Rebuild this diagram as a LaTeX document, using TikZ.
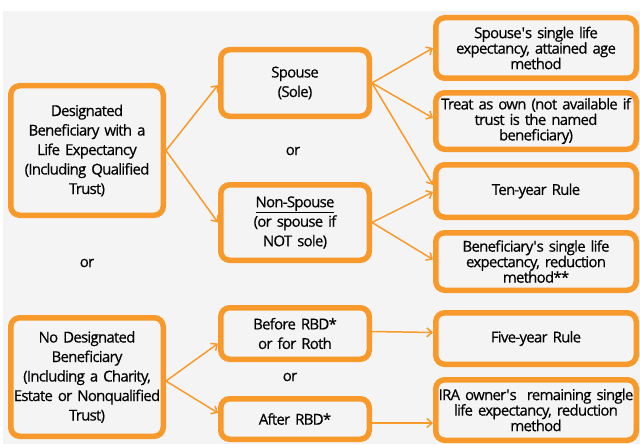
\documentclass[tikz,border=0pt]{standalone}
\usepackage{fontspec}
\setmainfont{Open Sans}[LetterSpace=-5, FakeBold=0.4]
\usetikzlibrary{arrows.meta}
\definecolor{orng}{HTML}{F89A2B}
\definecolor{bgg}{HTML}{F4F4F4}
\definecolor{txt}{HTML}{000000}
\tikzset{
  box/.style={draw=orng, line width=5.5pt, rounded corners=9pt, fill=bgg, inner sep=0pt, align=center, text=txt},
  big/.style={font=\fontsize{15}{19.5}\selectfont},
  small/.style={font=\fontsize{15}{15.5}\selectfont},
  conn/.style={draw=orng, line width=1.5pt, -{Straight Barb[length=5pt,width=9pt,line width=1.5pt]}},
  ortext/.style={font=\fontsize{15}{16}\selectfont, text=txt}
}
\begin{document}
\begin{tikzpicture}[x=1pt,y=-1pt]
\useasboundingbox (0,0) rectangle (640,444);
\fill[white] (0,0) rectangle (640,444);
\fill[bgg] (3,11) rectangle (640,444);
% left column
\node[box,big,minimum width=152.5pt,minimum height=129.5pt,text width=150pt] (L1) at (87,150.5) {Designated\\Beneficiary with a\\Life Expectancy\\(Including Qualified\\Trust)};
\node[box,big,minimum width=152.5pt,minimum height=118.5pt,text width=150pt] (L2) at (87,377) {No Designated\\Beneficiary\\(Including a Charity,\\Estate or Nonqualified\\Trust)};
% middle column
\node[box,big,minimum width=148.5pt,minimum height=66.5pt,text width=140pt] (M1) at (295,83) {Spouse\\(Sole)};
\node[box,big,minimum width=148.5pt,minimum height=75.5pt,text width=140pt] (M2) at (295,222.5) {\underline{Non-Spouse}\\(or spouse if\\NOT sole)};
\node[box,big,minimum width=148.5pt,minimum height=51.5pt,text width=140pt] (M3) at (295,333.5) {Before RBD*\\or for Roth};
\node[box,big,minimum width=148.5pt,minimum height=40.5pt,text width=140pt] (M4) at (295,419) {After RBD*};
% right column
\node[box,small,minimum width=200.5pt,minimum height=60.5pt,text width=198pt] (R1) at (536,48) {Spouse\textquotesingle s single life\\expectancy, attained age\\method};
\node[box,small,minimum width=200.5pt,minimum height=56.5pt,text width=198pt] (R2) at (536,121) {Treat as own (not available if\\trust is the named\\beneficiary)};
\node[box,small,minimum width=200.5pt,minimum height=52.5pt,text width=198pt] (R3) at (536,191) {Ten-year Rule};
\node[box,small,minimum width=200.5pt,minimum height=57.5pt,text width=198pt] (R4) at (536,261.5) {Beneficiary\textquotesingle s single life\\expectancy, reduction\\method**};
\node[box,small,minimum width=200.5pt,minimum height=51.5pt,text width=198pt] (R5) at (536,338.5) {Five-year Rule};
\node[box,small,minimum width=200.5pt,minimum height=60.5pt,text width=198pt] (R6) at (536,410) {IRA owner\textquotesingle s\ \ remaining single\\life expectancy, reduction\\method};
% or labels
\node[ortext] (or1) at (293,151) {or};
\node[ortext] (or2) at (87,263) {or};
\node[ortext] (or3) at (290,377) {or};
% connectors
\draw[conn] (L1.east) -- ([yshift=-2pt]M1.west);
\draw[conn] (L1.east) -- (M2.west);
\draw[conn] (M1.east) -- (R1.west);
\draw[conn] (M1.east) -- ([yshift=3pt]R2.west);
\draw[conn] (M1.east) -- ([yshift=6pt]R3.west);
\draw[conn] (M2.east) -- ([yshift=-1pt]R3.west);
\draw[conn] (M2.east) -- ([yshift=2pt]R4.west);
\draw[conn] ([yshift=-4pt]L2.east) -- ([yshift=-10pt]M3.west);
\draw[conn] ([yshift=-4pt]L2.east) -- ([yshift=6pt]M4.west);
\draw[conn] ([yshift=2pt]M3.east) -- ([yshift=6pt]R5.west);
\draw[conn] ([yshift=-4pt]M4.east) -- ([yshift=-13pt]R6.west);
\end{tikzpicture}
\end{document}
